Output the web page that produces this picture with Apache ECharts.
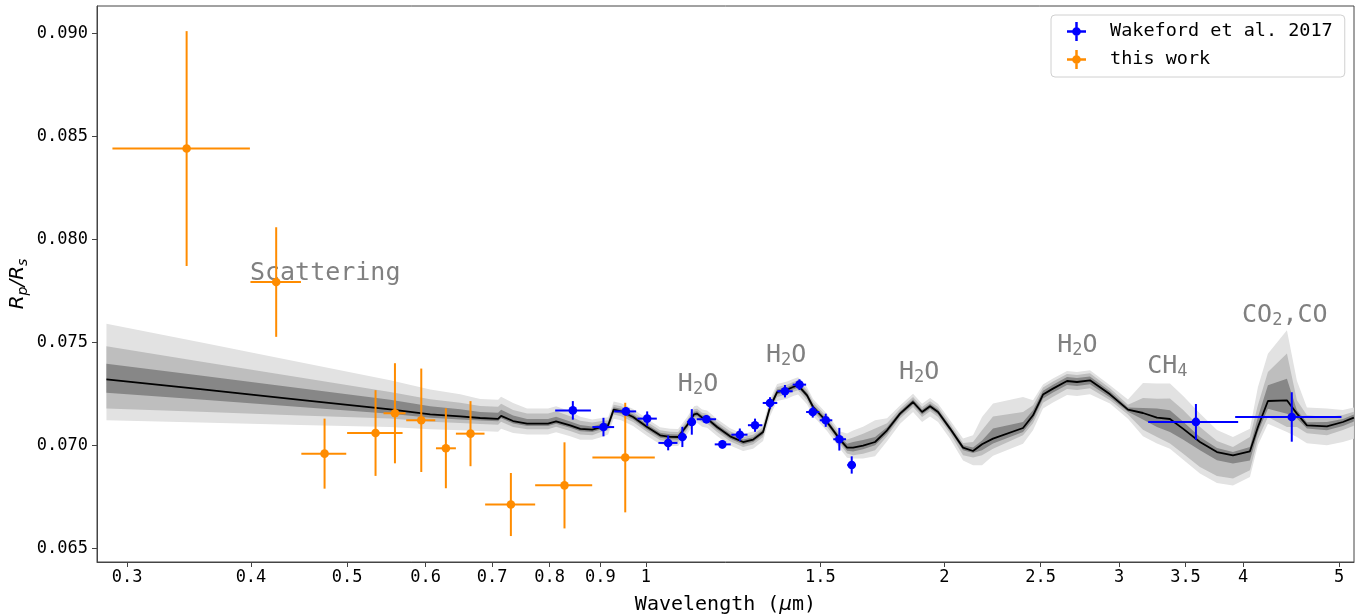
<!DOCTYPE html>
<html><head><meta charset="utf-8">
<script src="https://cdn.jsdelivr.net/npm/echarts@6/dist/echarts.min.js"></script>
<style>html,body{margin:0;padding:0;background:#fff}#c{width:1359px;height:614px}</style>
</head><body><div id="c"></div>
<script>
// ---------- axis ticks ----------
const xTickLabels = [0.3,0.4,0.5,0.6,0.7,0.8,0.9,1,1.5,2,2.5,3,3.5,4,5];
const yTickValues = [0.065,0.070,0.075,0.080,0.085,0.090];
const xRange = [0.2798, 5.175];
const yRange = [0.06435, 0.09134];

// ---------- Wakeford et al. 2017 ----------
const wakefordWl   = [0.8443,0.9065,0.9550,1.0033,1.0534,1.0887,1.1128,1.1511,1.1946,1.2440,1.2887,1.3342,1.3814,1.4286,1.4734,1.5185,1.5672,1.6129,3.5857,4.4790];
const wakefordWlLo = [0.8104,0.8835,0.9292,0.9808,1.0298,1.0780,1.1007,1.1255,1.1736,1.2198,1.2676,1.3119,1.3570,1.4064,1.4509,1.4974,1.5454,1.5964,3.2094,3.9276];
const wakefordWlHi = [0.8805,0.9292,0.9779,1.0260,1.0764,1.0999,1.1237,1.1773,1.2181,1.2664,1.3107,1.3570,1.4064,1.4509,1.4960,1.5418,1.5916,1.6290,3.9550,5.0265];
const wakefordRp   = [0.07171,0.07090,0.07166,0.07131,0.07013,0.07042,0.07115,0.07128,0.07006,0.07053,0.07099,0.07207,0.07264,0.07296,0.07163,0.07123,0.07031,0.06906,0.07115,0.07139];
const wakefordErr  = [0.00045,0.00045,0.00020,0.00035,0.00036,0.00049,0.00062,0.00020,0.00020,0.00030,0.00032,0.00028,0.00030,0.00026,0.00027,0.00032,0.00055,0.00042,0.00087,0.00120];

// ---------- this work ----------
const thisWl   = [0.3445,0.4241,0.4745,0.5341,0.5587,0.5939,0.6288,0.6658,0.7312,0.8281,0.9535];
const thisWlLo = [0.2900,0.3995,0.4496,0.5000,0.5441,0.5735,0.6145,0.6436,0.6888,0.7736,0.8835];
const thisWlHi = [0.3990,0.4492,0.4990,0.5687,0.5726,0.6135,0.6436,0.6878,0.7736,0.8831,1.0212];
const thisRp   = [0.08442,0.07794,0.06961,0.07061,0.07157,0.07123,0.06987,0.07058,0.06714,0.06807,0.06942];
const thisErr  = [0.00570,0.00266,0.00170,0.00208,0.00243,0.00251,0.00194,0.00158,0.00153,0.00209,0.00266];

// ---------- retrieved model (median) ----------
const modelWl = [0.2860,0.3556,0.4484,0.5526,0.6064,0.6501,0.6809,0.7098,0.7148,0.7350,
0.7592,0.7971,0.8121,0.8391,0.8589,0.8832,0.8995,0.9165,0.9282,0.9445,
0.9711,1.0032,1.0339,1.0582,1.0780,1.1007,1.1187,1.1265,1.1397,1.1530,
1.1800,1.2162,1.2535,1.2829,1.3130,1.3345,1.3564,1.3882,1.4077,1.4241,
1.4541,1.4745,1.5232,1.5698,1.5956,1.6180,1.6560,1.7027,1.7508,1.8044,
1.8597,1.8990,1.9346,1.9708,2.0264,2.0884,2.1374,2.1825,2.2389,2.4004,
2.4568,2.5144,2.5733,2.6584,2.7207,2.8040,2.9373,3.0624,3.1710,3.2757,
3.3760,3.4794,3.6195,3.7652,3.9075,4.0646,4.1407,4.2379,4.4289,4.5328,
4.6392,4.8594,5.0434,5.1738];
const modelDepth = [0.073218,0.072738,0.072224,0.071762,0.071519,0.071422,0.071340,0.071301,0.071446,0.071194,
0.071068,0.071068,0.071180,0.070985,0.070815,0.070777,0.070888,0.070985,0.071747,0.071665,
0.071388,0.070903,0.070500,0.070427,0.070418,0.070985,0.071519,0.071553,0.071359,0.071311,
0.070903,0.070451,0.070175,0.070291,0.070660,0.071874,0.072602,0.072718,0.072845,0.072927,
0.072442,0.071874,0.071146,0.070291,0.069902,0.069902,0.069999,0.070175,0.070743,0.071553,
0.072117,0.071631,0.071908,0.071631,0.070825,0.069902,0.069738,0.070063,0.070340,0.070854,
0.071471,0.072476,0.072767,0.073136,0.073087,0.073170,0.072490,0.071747,0.071583,0.071359,
0.071291,0.070825,0.070175,0.069689,0.069528,0.069723,0.070903,0.072165,0.072199,0.071553,
0.070985,0.070937,0.071146,0.071359];

// confidence-band half widths above / below the median, in units of 1e-5
const BAND_UNIT = 1e-5;
const sigma3Up = [270,228,182,141,121,107,92,92,92,87,
73,73,73,68,58,49,44,39,39,39,
39,39,39,39,39,39,39,39,39,39,
39,39,39,39,39,39,39,39,39,39,
39,39,39,39,68,83,92,105,58,40,
40,40,40,40,40,44,76,133,170,150,
73,49,49,49,49,49,44,49,146,165,
172,160,138,107,89,110,194,230,340,160,
87,86,58,49];
const sigma2Up = [160,135,108,84,73,66,58,58,58,53,
49,49,49,44,39,34,29,24,24,24,
24,24,24,24,24,24,24,24,24,24,
24,24,24,24,24,24,24,24,24,24,
24,24,24,24,39,49,58,65,34,24,
24,24,24,24,24,22,44,68,107,78,
49,34,34,34,34,34,29,24,73,92,
99,92,73,53,40,69,107,141,227,65,
49,45,34,29];
const sigma1Up = [76,67,56,47,39,34,29,29,29,27,
22,22,22,19,19,15,15,12,12,12,
12,12,12,12,12,12,12,12,12,12,
12,12,12,12,12,12,12,12,12,12,
12,12,12,12,19,27,27,24,15,12,
12,12,12,12,12,11,17,19,49,29,
24,19,19,19,19,19,15,10,24,44,
42,34,24,19,16,21,49,76,105,16,
15,21,15,15];
const sigma1Dn = [65,50,35,21,17,15,12,12,12,12,
12,12,12,12,12,12,12,12,12,12,
12,12,12,12,12,12,12,12,12,12,
12,12,12,12,12,12,12,12,12,12,
12,12,12,12,15,19,17,16,15,12,
12,12,12,12,12,13,10,29,24,19,
19,19,19,19,19,19,15,10,32,46,
63,53,40,40,40,44,24,37,65,24,
15,19,19,19];
const sigma2Dn = [142,110,76,45,36,32,29,29,29,29,
27,27,27,27,27,27,24,24,24,24,
24,24,24,24,24,24,24,24,24,24,
24,24,24,24,24,24,24,24,24,24,
24,24,24,24,29,37,39,40,29,24,
24,24,24,24,24,37,32,53,49,35,
39,39,39,39,39,39,29,24,81,94,
119,121,121,117,113,92,58,78,130,65,
39,44,39,39];
const sigma3Dn = [199,162,122,86,73,68,63,63,63,58,
53,53,53,53,53,49,49,44,44,44,
44,44,44,44,44,44,44,44,44,44,
44,44,44,44,44,44,44,44,44,44,
44,44,44,44,49,53,63,69,53,49,
49,49,49,49,49,62,69,102,83,76,
73,68,68,68,68,68,44,44,113,126,
144,150,153,150,146,125,87,110,154,114,
87,92,97,102];

// ---------- annotations ----------
const annotText = ['Scattering','H{s|2}O','H{s|2}O','H{s|2}O','H{s|2}O','CH{s|4}','CO{s|2},CO'];
const annotWl   = [0.4752,1.129,1.385,1.886,2.723,3.356,4.407];
const annotRp   = [0.07836,0.07298,0.07438,0.07356,0.07487,0.07385,0.07633];

// ---------- chart ----------
const lg = Math.log10;
const MONO = 'DejaVu Sans Mono';
const BLUE = '#0000ff', ORANGE = '#ff8c00';

function bandSeries(up, dn, color, z) {
  return {
    type: 'custom', silent: true, z: z, clip: true,
    data: [[0, 0.07]],
    renderItem: function (params, api) {
      const pts = [];
      for (let i = 0; i < modelWl.length; i++) pts.push(api.coord([lg(modelWl[i]), modelDepth[i] + up[i] * BAND_UNIT]));
      for (let i = modelWl.length - 1; i >= 0; i--) pts.push(api.coord([lg(modelWl[i]), modelDepth[i] - dn[i] * BAND_UNIT]));
      return { type: 'polygon', shape: { points: pts }, style: { fill: color } };
    }
  };
}

function errorBarSeries(color, wl, lo, hi, rp, err, z) {
  const data = wl.map((w, i) => [lg(w), rp[i], lg(lo[i]), lg(hi[i]), err[i]]);
  return {
    type: 'custom', z: z, itemStyle: { color: color },
    encode: { x: 0, y: 1 }, data: data,
    renderItem: function (params, api) {
      const x = api.value(0), y = api.value(1), xl = api.value(2), xh = api.value(3), e = api.value(4);
      const c = api.coord([x, y]), l = api.coord([xl, y]), r = api.coord([xh, y]);
      const t = api.coord([x, y + e]), b = api.coord([x, y - e]);
      return { type: 'group', children: [
        { type: 'line', shape: { x1: l[0], y1: l[1], x2: r[0], y2: r[1] }, style: { stroke: color, lineWidth: 2 } },
        { type: 'line', shape: { x1: t[0], y1: t[1], x2: b[0], y2: b[1] }, style: { stroke: color, lineWidth: 2 } },
        { type: 'circle', shape: { cx: c[0], cy: c[1], r: 4.3 }, style: { fill: color } }
      ]};
    }
  };
}

// empty scatter series that only carry the legend entries
function legendSeries(name, color) {
  return { type: 'scatter', name: name, data: [], itemStyle: { color: color, opacity: 1, borderWidth: 0 } };
}

const chart = echarts.init(document.getElementById('c'), null, { renderer: 'canvas' });
chart.setOption({
  animation: false,
  backgroundColor: '#fff',
  grid: { left: 97, right: 5, top: 6, bottom: 52, containLabel: false, outerBoundsMode: 'none',
          show: true, borderColor: '#444', borderWidth: 1 },
  legend: {
    data: ['Wakeford et al. 2017', 'this work'],
    orient: 'vertical', left: 1051, top: 15,
    icon: 'path://M0,8.7H20V11.3H0Z M8.7,0H11.3V20H8.7Z M5.4,10A4.6,4.6,0,1,1,14.6,10A4.6,4.6,0,1,1,5.4,10Z',
    itemWidth: 19, itemHeight: 19, itemGap: 9,
    padding: [7, 12, 8, 16],
    itemStyle: { borderWidth: 0, opacity: 1 },
    backgroundColor: '#fff', borderColor: '#d0d0d0', borderWidth: 1, borderRadius: 4,
    textStyle: { fontFamily: MONO, fontSize: 18.5, color: '#000', padding: [0, 0, 0, 19] }
  },
  xAxis: {
    type: 'value', min: lg(xRange[0]), max: lg(xRange[1]),
    name: 'Wavelength ({i|μ}m)', nameLocation: 'middle', nameGap: 33, nameMoveOverlap: false,
    nameTextStyle: { fontFamily: MONO, fontSize: 20, color: '#000',
      rich: { i: { fontFamily: 'DejaVu Sans', fontStyle: 'italic', fontSize: 20, color: '#000' } } },
    axisLine: { show: true, onZero: false, lineStyle: { color: '#444', width: 1 } },
    axisTick: { show: true, customValues: xTickLabels.map(lg), length: 5, lineStyle: { color: '#444' } },
    axisLabel: { customValues: xTickLabels.map(lg), margin: 7,
      formatter: v => String(Math.round(Math.pow(10, v) * 100) / 100),
      fontFamily: MONO, fontSize: 17, color: '#000' },
    splitLine: { show: false }
  },
  yAxis: {
    type: 'value', min: yRange[0], max: yRange[1],
    name: '{i|R}{s|p}{i|/R}{s|s}', nameLocation: 'middle', nameGap: 67, nameMoveOverlap: false,
    nameTextStyle: { fontFamily: 'DejaVu Sans', fontStyle: 'italic', fontSize: 20, color: '#000', lineHeight: 24,
      rich: {
        i: { fontFamily: 'DejaVu Sans', fontStyle: 'italic', fontSize: 20, lineHeight: 24, color: '#000' },
        s: { fontFamily: 'DejaVu Sans', fontStyle: 'italic', fontSize: 14, lineHeight: 14, verticalAlign: 'bottom', color: '#000' }
      } },
    axisLine: { show: true, onZero: false, lineStyle: { color: '#444', width: 1 } },
    axisTick: { show: true, customValues: yTickValues, length: 5, lineStyle: { color: '#444' } },
    axisLabel: { customValues: yTickValues, margin: 9, formatter: v => v.toFixed(3),
      fontFamily: MONO, fontSize: 17, color: '#000' },
    splitLine: { show: false }
  },
  series: [
    legendSeries('Wakeford et al. 2017', BLUE),
    legendSeries('this work', ORANGE),
    bandSeries(sigma3Up, sigma3Dn, '#e2e2e2', 1),
    bandSeries(sigma2Up, sigma2Dn, '#bebebe', 2),
    bandSeries(sigma1Up, sigma1Dn, '#878787', 3),
    {
      type: 'line', z: 4, silent: true, showSymbol: false, symbol: 'none',
      data: modelWl.map((w, i) => [lg(w), modelDepth[i]]),
      lineStyle: { color: '#000', width: 1.8 }
    },
    {
      type: 'custom', z: 5, silent: true,
      data: annotWl.map((w, i) => [lg(w), annotRp[i]]),
      renderItem: function (params, api) {
        const p = api.coord([api.value(0), api.value(1)]);
        return { type: 'text', x: p[0], y: p[1], style: {
          text: annotText[params.dataIndex], fill: '#808080',
          fontFamily: MONO, fontSize: 25, lineHeight: 27,
          align: 'center', verticalAlign: 'middle',
          rich: { s: { fontFamily: MONO, fontSize: 17, lineHeight: 17, verticalAlign: 'bottom', fill: '#808080' } }
        } };
      }
    },
    errorBarSeries(ORANGE, thisWl, thisWlLo, thisWlHi, thisRp, thisErr, 6),
    errorBarSeries(BLUE, wakefordWl, wakefordWlLo, wakefordWlHi, wakefordRp, wakefordErr, 7)
  ]
});
</script>
</body></html>
